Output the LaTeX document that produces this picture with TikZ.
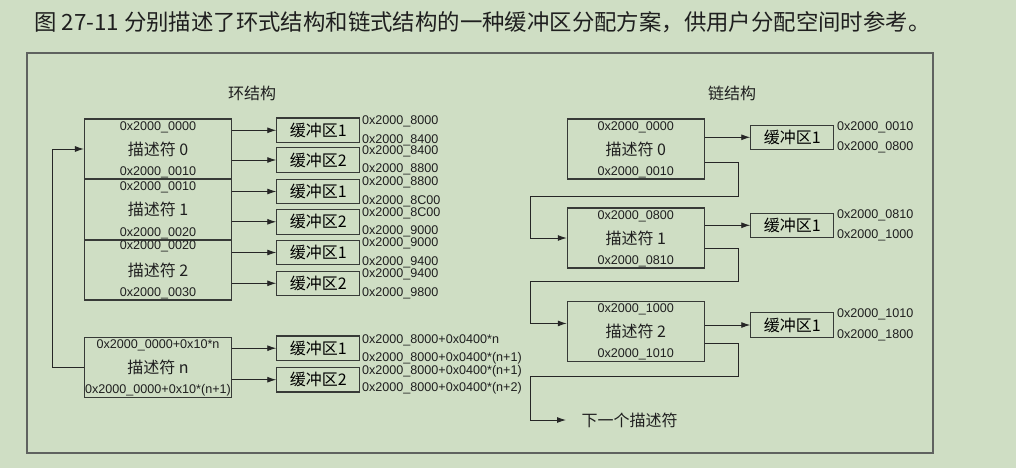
\documentclass[tikz,border=0pt]{standalone}
\usepackage{fontspec}
\setmainfont{Liberation Sans}
\newfontfamily\cjk{Noto Sans CJK SC}
\usepackage{tikz}
\usetikzlibrary{positioning}
\usetikzlibrary{arrows.meta}
\usepackage{xcolor}
\definecolor{bgcol}{RGB}{207,222,196}
\definecolor{edgecol}{RGB}{55,58,55}
\definecolor{framecol}{RGB}{95,98,95}

\begin{document}
\begin{tikzpicture}[x=1pt, y=-1pt,
    desc/.style={draw=edgecol, line width=1.1pt, minimum width=147pt, minimum height=60pt, inner sep=0pt},
    cdesc/.style={desc, minimum width=137pt},
    buf/.style={draw=edgecol, line width=1.1pt, minimum width=83pt, minimum height=24.5pt, inner sep=0pt, font=\cjk\fontsize{16}{16}\selectfont},
    addr/.style={inner sep=0pt, text=black!88, font=\fontsize{12.6}{12.6}\selectfont},
    lbl/.style={inner sep=0pt, text=black!88, font=\cjk\fontsize{16}{16}\selectfont},
    arr/.style={-{Latex[length=9pt,width=6pt]}, line width=0.9pt, draw=black!85}]
    \fill[bgcol] (0,0) rectangle (1016,468);
    \useasboundingbox (0,0) rectangle (1016,468);

    % Caption
    \node[anchor=west, inner sep=0pt, text=black!88, font=\cjk\fontsize{22.4}{22.4}\selectfont] (title) at (34,22) {图 27-11 分别描述了环式结构和链式结构的一种缓冲区分配方案，供用户分配空间时参考。};
    \draw[framecol, line width=1.5pt] (27,53) rectangle (933,453);

    % Ring structure
    \node[lbl] (ringt) at (252,93) {环结构};

    \node[desc] (r0) at (158,149) {};
    \node[desc] (r1) at (158,209.5) {};
    \node[desc] (r2) at (158,270) {};
    \node[desc] (rn) at (158,367.3) {};

    \node[addr] (r0a) at ([yshift=-8.5pt]r0.north) {0x2000\_0000};
    \node[lbl] (r0l) at (r0) {描述符 0};
    \node[addr] (r0b) at ([yshift=7pt]r0.south) {0x2000\_0010};
    \node[addr] (r1a) at ([yshift=-8pt]r1.north) {0x2000\_0010};
    \node[lbl] (r1l) at (r1) {描述符 1};
    \node[addr] (r1b) at ([yshift=7pt]r1.south) {0x2000\_0020};
    \node[addr] (r2a) at ([yshift=-7pt]r2.north) {0x2000\_0020};
    \node[lbl] (r2l) at (r2) {描述符 2};
    \node[addr] (r2b) at ([yshift=7pt]r2.south) {0x2000\_0030};
    \node[addr] (rna) at ([yshift=-9pt]rn.north) {0x2000\_0000+0x10*n};
    \node[lbl] (rnl) at (rn) {描述符 n};
    \node[addr] (rnb) at ([yshift=8pt]rn.south) {0x2000\_0000+0x10*(n+1)};

    \node[buf] (rb01) at (318.3,130.3) {缓冲区1};
    \node[buf] (rb02) at (318.3,160) {缓冲区2};
    \node[buf] (rb11) at (318.3,191.5) {缓冲区1};
    \node[buf] (rb12) at (318.3,221.8) {缓冲区2};
    \node[buf] (rb21) at (318.3,252.5) {缓冲区1};
    \node[buf] (rb22) at (318.3,283.3) {缓冲区2};
    \node[buf] (rbn1) at (318.3,348.2) {缓冲区1};
    \node[buf] (rbn2) at (318.3,379.7) {缓冲区2};

    \draw[arr] (r0.east |- rb01) -- (rb01);
    \draw[arr] (r0.east |- rb02) -- (rb02);
    \draw[arr] (r1.east |- rb11) -- (rb11);
    \draw[arr] (r1.east |- rb12) -- (rb12);
    \draw[arr] (r2.east |- rb21) -- (rb21);
    \draw[arr] (r2.east |- rb22) -- (rb22);
    \draw[arr] (rn.east |- rbn1) -- (rbn1);
    \draw[arr] (rn.east |- rbn2) -- (rbn2);

    \node[addr, anchor=west] (rb01a) at ([xshift=1.5pt, yshift=-3.5pt]rb01.north east) {0x2000\_8000};
    \node[addr, anchor=west] (rb01b) at ([xshift=1.5pt, yshift=2.5pt]rb01.south east) {0x2000\_8400};
    \node[addr, anchor=west] (rb02a) at ([xshift=1.5pt, yshift=-4pt]rb02.north east) {0x2000\_8400};
    \node[addr, anchor=west] (rb02b) at ([xshift=1.5pt, yshift=3pt]rb02.south east) {0x2000\_8800};
    \node[addr, anchor=west] (rb11a) at ([xshift=1.5pt, yshift=-4pt]rb11.north east) {0x2000\_8800};
    \node[addr, anchor=west] (rb11b) at ([xshift=1.5pt, yshift=2.5pt]rb11.south east) {0x2000\_8C00};
    \node[addr, anchor=west] (rb12a) at ([xshift=1.5pt, yshift=-4pt]rb12.north east) {0x2000\_8C00};
    \node[addr, anchor=west] (rb12b) at ([xshift=1.5pt, yshift=3pt]rb12.south east) {0x2000\_9000};
    \node[addr, anchor=west] (rb21a) at ([xshift=1.5pt, yshift=-4pt]rb21.north east) {0x2000\_9000};
    \node[addr, anchor=west] (rb21b) at ([xshift=1.5pt, yshift=2.5pt]rb21.south east) {0x2000\_9400};
    \node[addr, anchor=west] (rb22a) at ([xshift=1.5pt, yshift=-4pt]rb22.north east) {0x2000\_9400};
    \node[addr, anchor=west] (rb22b) at ([xshift=1.5pt, yshift=3pt]rb22.south east) {0x2000\_9800};
    \node[addr, anchor=west] (rbn1a) at ([xshift=1.5pt, yshift=-4.5pt]rbn1.north east) {0x2000\_8000+0x0400*n};
    \node[addr, anchor=west] (rbn1b) at ([xshift=1.5pt, yshift=3pt]rbn1.south east) {0x2000\_8000+0x0400*(n+1)};
    \node[addr, anchor=west] (rbn2a) at ([xshift=1.5pt, yshift=-4.5pt]rbn2.north east) {0x2000\_8000+0x0400*(n+1)};
    \node[addr, anchor=west] (rbn2b) at ([xshift=1.5pt, yshift=4pt]rbn2.south east) {0x2000\_8000+0x0400*(n+2)};

    % back to the first descriptor
    \coordinate (loopc) at (52.3,367.3);
    \draw[arr] (rn.west) -- (loopc) |- (r0.west);

    % Chain structure
    \node[lbl] (chaint) at (732,93) {链结构};

    \node[cdesc] (c0) at (635.8,149) {};
    \node[cdesc] (c1) at (635.8,238) {};
    \node[cdesc] (c2) at (635.8,331.7) {};

    \node[addr] (c0a) at ([yshift=-8.5pt]c0.north) {0x2000\_0000};
    \node[lbl] (c0l) at (c0) {描述符 0};
    \node[addr] (c0b) at ([yshift=7pt]c0.south) {0x2000\_0010};
    \node[addr] (c1a) at ([yshift=-8.5pt]c1.north) {0x2000\_0800};
    \node[lbl] (c1l) at (c1) {描述符 1};
    \node[addr] (c1b) at ([yshift=7pt]c1.south) {0x2000\_0810};
    \node[addr] (c2a) at ([yshift=-8pt]c2.north) {0x2000\_1000};
    \node[lbl] (c2l) at (c2) {描述符 2};
    \node[addr] (c2b) at ([yshift=8pt]c2.south) {0x2000\_1010};

    \node[buf] (cb0) at (792.3,137.3) {缓冲区1};
    \node[buf] (cb1) at (792.3,225.3) {缓冲区1};
    \node[buf] (cb2) at (792.3,325) {缓冲区1};

    \draw[arr] (c0.east |- cb0) -- (cb0);
    \draw[arr] (c1.east |- cb1) -- (cb1);
    \draw[arr] (c2.east |- cb2) -- (cb2);

    \node[addr, anchor=west] (cb0a) at ([xshift=2.5pt, yshift=-2.5pt]cb0.north east) {0x2000\_0010};
    \node[addr, anchor=west] (cb0b) at ([xshift=2.5pt, yshift=2.5pt]cb0.south east) {0x2000\_0800};
    \node[addr, anchor=west] (cb1a) at ([xshift=2.5pt, yshift=-2.5pt]cb1.north east) {0x2000\_0810};
    \node[addr, anchor=west] (cb1b) at ([xshift=2.5pt, yshift=2.5pt]cb1.south east) {0x2000\_1000};
    \node[addr, anchor=west] (cb2a) at ([xshift=2.5pt, yshift=-2.5pt]cb2.north east) {0x2000\_1010};
    \node[addr, anchor=west] (cb2b) at ([xshift=2.5pt, yshift=2.5pt]cb2.south east) {0x2000\_1800};

    % links between descriptors
    \node[lbl, anchor=west, inner xsep=15.5pt] (next) at (566,420) {下一个描述符};
    \coordinate (k01) at (738.7,196.7);
    \coordinate (k12) at (738.7,281.7);
    \coordinate (k23) at (738.7,376.7);
    \draw[arr] ([yshift=16.7pt]c0.south east) -| (k01) -| ([xshift=-36.6pt]c1.west) -- (c1.west);
    \draw[arr] ([yshift=20.6pt]c1.south east) -| (k12) -| ([xshift=-36.6pt, yshift=-22.3pt]c2.north west) -- ([yshift=-22.3pt]c2.north west);
    \draw[arr] ([yshift=18.4pt]c2.south east) -| (k23) -| ([xshift=-35.3pt]next.west) -- (next.west);
\end{tikzpicture}
\end{document}
